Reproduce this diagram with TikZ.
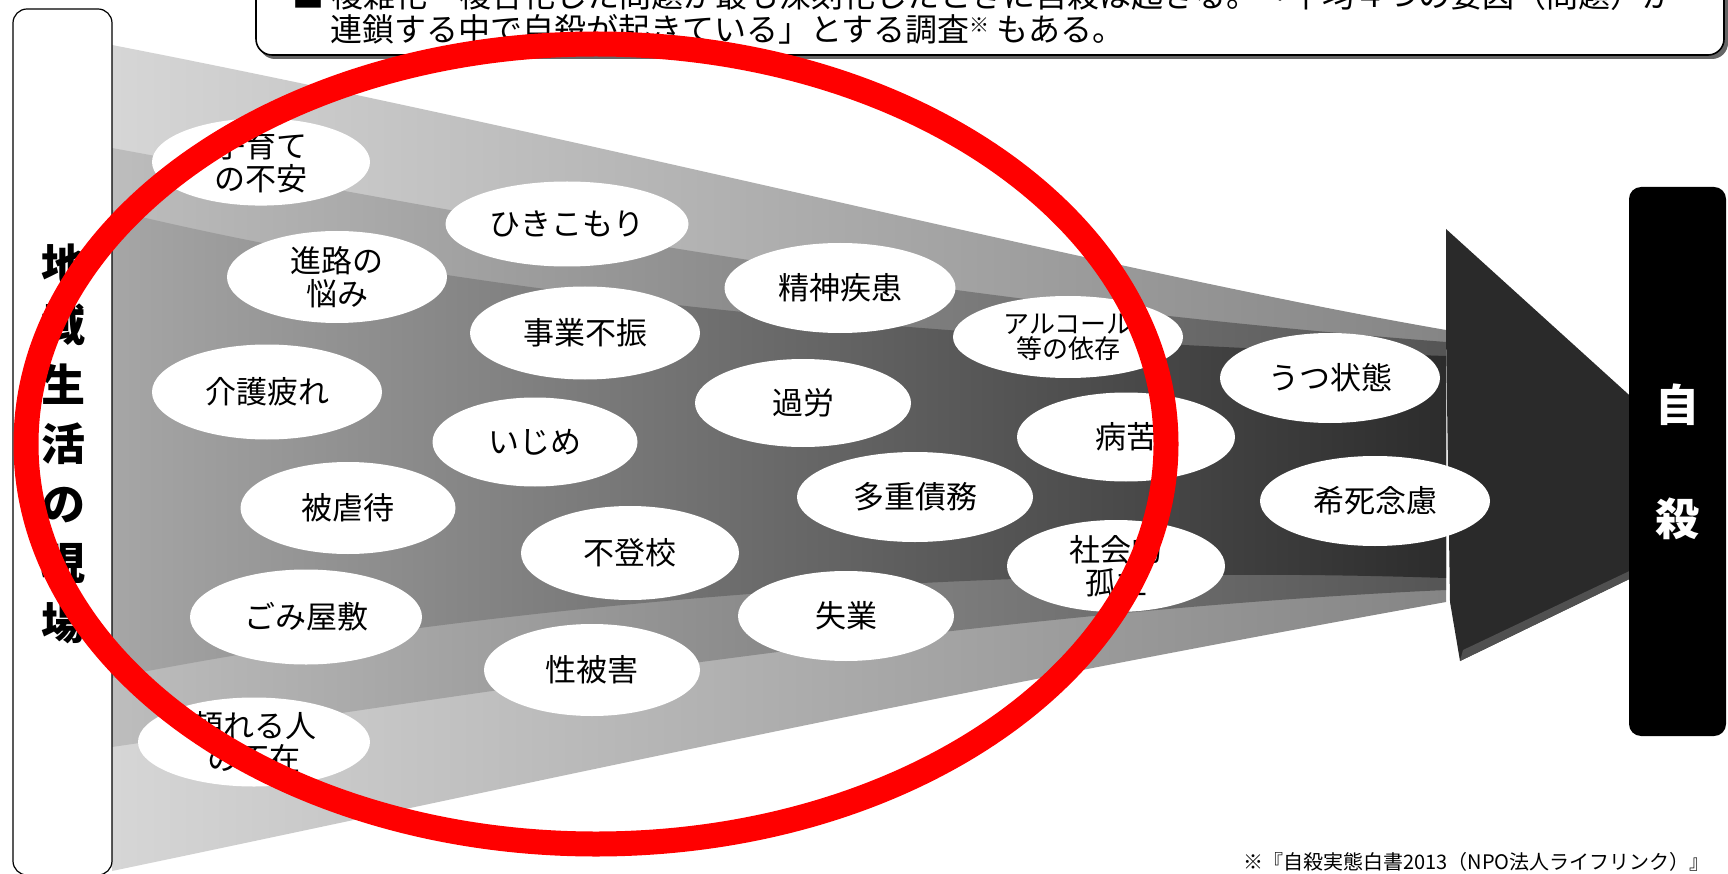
\documentclass[tikz,border=0pt]{standalone}
\usepackage{fontspec}
\setmainfont{Noto Sans CJK JP}
\usetikzlibrary{shapes.geometric}
\definecolor{bandAL}{HTML}{D6D6D6}
\definecolor{bandAR}{HTML}{858585}
\definecolor{bandBL}{HTML}{BDBDBD}
\definecolor{bandBR}{HTML}{555555}
\definecolor{bandCL}{HTML}{A6A6A6}
\definecolor{bandCR}{HTML}{2C2C2C}
\definecolor{arrowc}{HTML}{2A2A2A}
\definecolor{bevel}{HTML}{505050}
\definecolor{redring}{HTML}{FF0000}
\begin{document}
\begin{tikzpicture}[x=1pt,y=-1pt,
  bub/.style={ellipse, fill=white, inner sep=0pt, align=center, text=black,
              font=\fontsize{31}{33}\selectfont},
  smallbub/.style={bub, font=\fontsize{26}{25}\selectfont},
  sidebox/.style={draw=black, line width=1.2pt, fill=white, rounded corners=14pt, inner sep=0pt},
  endbox/.style={fill=black, rounded corners=12pt, inner sep=0pt, text=white, align=center,
                 font=\fontsize{44}{114}\selectfont\bfseries},
  notetext/.style={anchor=west, inner sep=0pt, font=\fontsize{32}{32}\selectfont},
]
\useasboundingbox (0,0) rectangle (1728,874);
\clip (0,0) rectangle (1728,874);
\fill[white] (0,0) rectangle (1728,874);

% funnel bands
\shade[left color=bandAL, right color=bandAR]
  (112,45) .. controls (600,140) and (1100,270) .. (1446,330)
  -- (1446,602) .. controls (900,700) and (500,790) .. (112,871) -- cycle;
\shade[left color=bandBL, right color=bandBR]
  (112,148) .. controls (450,210) and (900,300) .. (1446,342)
  -- (1446,590) .. controls (1000,610) and (500,690) .. (112,747) -- cycle;
\shade[left color=bandCL, right color=bandCR]
  (112,210) .. controls (400,280) and (800,335) .. (1446,356)
  -- (1446,578) .. controls (900,560) and (400,620) .. (112,678) -- cycle;

% arrow head
\fill[arrowc] (1446,229) -- (1660,423) -- (1660,564) -- (1460,661) -- (1450,602) -- (1446,334) -- cycle;
\fill[bevel] (1460,661) -- (1640,574) -- (1640,566) -- (1463,650) -- cycle;

% top note box
\fill[black!60, rounded corners=16pt] (259,-40) rectangle (1728,59);
\draw[line width=1.6pt, fill=white, rounded corners=16pt] (256,-40) rectangle (1724,55);
\node[notetext] (line1) at (292,-5) {■ 複雑化・複合化した問題が最も深刻化したときに自殺は起きる。「平均４つの要因（問題）が};
\node[notetext] (line2) at (330,29) {連鎖する中で自殺が起きている」とする調査\raisebox{9pt}{\fontsize{20}{20}\selectfont ※} もある。};

% left box
\node[sidebox, minimum width=99pt, minimum height=866pt] (leftbox) at (62.5,442) {};
\node[align=center, inner sep=0pt, font=\fontsize{44}{59.6}\selectfont\bfseries] (leftlabel) at (63,444)
  {地\\域\\生\\活\\の\\現\\場};

% right box
\node[endbox, minimum width=97pt, minimum height=549pt] (jisatsu) at (1677.5,461.5) {自\\殺};

% bubbles
\node[bub, minimum width=218pt, minimum height=87pt] (kosodate) at (261,162) {子育て\\の不安};
\node[bub, minimum width=243pt, minimum height=85pt] (hikikomori) at (567,224) {ひきこもり};
\node[bub, minimum width=220pt, minimum height=92pt] (shinro) at (337,277) {進路の\\悩み};
\node[bub, minimum width=231pt, minimum height=90pt] (seishin) at (840,288) {精神疾患};
\node[bub, minimum width=230pt, minimum height=93pt] (jigyo) at (585,333) {事業不振};
\node[smallbub, minimum width=230pt, minimum height=82pt] (alcohol) at (1068,337) {アルコール\\等の依存};
\node[bub, minimum width=230pt, minimum height=95pt] (kaigo) at (267,392) {介護疲れ};
\node[bub, minimum width=216pt, minimum height=88pt] (karou) at (803,403) {過労};
\node[bub, minimum width=220pt, minimum height=90pt] (utsu) at (1330,378) {うつ状態};
\node[bub, minimum width=205pt, minimum height=89pt] (ijime) at (535,442) {いじめ};
\node[bub, minimum width=218pt, minimum height=89pt] (byoku) at (1126,437) {病苦};
\node[bub, minimum width=215pt, minimum height=92pt] (gyakutai) at (348,508) {被虐待};
\node[bub, minimum width=236pt, minimum height=90pt] (saimu) at (915,497) {多重債務};
\node[bub, minimum width=230pt, minimum height=90pt] (kishi) at (1375,501) {希死念慮};
\node[bub, minimum width=218pt, minimum height=94pt] (futoko) at (630,553) {不登校};
\node[bub, minimum width=218pt, minimum height=92pt] (shakai) at (1116,566) {社会的\\孤立};
\node[bub, minimum width=232pt, minimum height=95pt] (gomi) at (306,617) {ごみ屋敷};
\node[bub, minimum width=216pt, minimum height=90pt] (shitsugyo) at (846,616) {失業};
\node[bub, minimum width=216pt, minimum height=92pt] (seihigai) at (592,670) {性被害};
\node[bub, minimum width=232pt, minimum height=89pt] (tayoreru) at (254,742) {頼れる人\\の不在};

% source
\node[anchor=east, inner sep=0pt, font=\fontsize{20}{20}\selectfont] (source) at (1710,862)
  {※『自殺実態白書2013（NPO法人ライフリンク）』};

% red ring
\draw[redring, line width=25pt] (596,444) ellipse (570 and 400);
\end{tikzpicture}
\end{document}
